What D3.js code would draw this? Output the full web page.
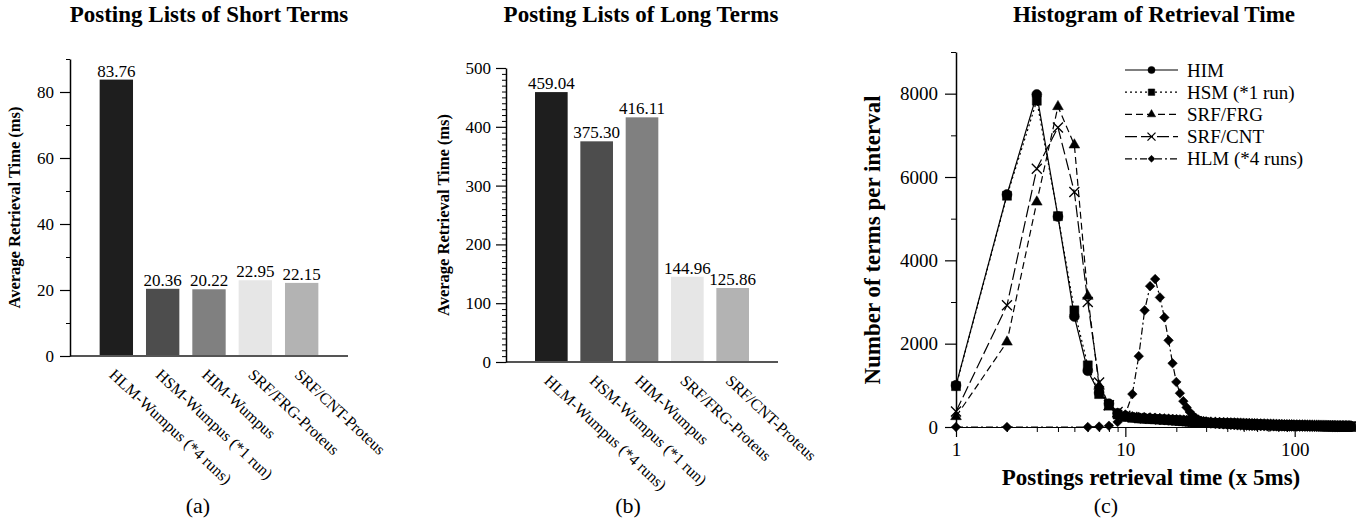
<!DOCTYPE html>
<html>
<head>
<meta charset="utf-8">
<script src="https://cdn.jsdelivr.net/npm/d3@7"></script>
<style>
  body { margin: 0; background: #fff; }
  svg text { font-family: "Liberation Serif", "Times New Roman", serif; fill: #000; }
</style>
</head>
<body>
<svg id="chart" width="1356" height="520"></svg>
<script>
// bar panels
const methods = ['HLM-Wumpus (*4 runs)', 'HSM-Wumpus (*1 run)', 'HIM-Wumpus', 'SRF/FRG-Proteus', 'SRF/CNT-Proteus'];
const shortTimes = [83.76, 20.36, 20.22, 22.95, 22.15];
const longTimes = [459.04, 375.30, 416.11, 144.96, 125.86];
const barShades = ['#1e1e1e', '#4d4d4d', '#808080', '#e6e6e6', '#b3b3b3'];

// histogram (x = retrieval time interval, y = number of terms)
const intervals = [1,2,3,4,5,6,7,8,9,10,11,12,13,14,15,16,17,18,19,20,21,22,23,24,25,26,27,28,29,30,
  32,34,36,38,40,42,44,46,48,50,52,54,56,58,60,
  63,66,69,72,75,78,81,84,87,90,93,96,99,
  103,107,111,115,119,123,127,131,135,139,143,147,151,155,159,163,167,171,175,179,183,187,191,195,199,203,207,211,215];
const himCounts = [1000,5580,7980,5050,2650,1350,820,560,330,260,235,215,205,200,195,185,180,172,166,160,152,146,140,133,128,124,118,114,110,106,
  100,97,94,90,87,84,81,78,75,72,70,67,65,63,61,
  58,55,53,50,48,46,44,42,40,38,37,35,34,
  33,32,31,30,29,28,27,26,25,24,23,22,22,21,20,19,19,18,17,16,16,15,14,14,13,12,12,11,10];
const hsmCounts = [980,5550,7830,5060,2800,1480,790,520,300,240,220,205,198,190,184,178,172,165,158,152,146,140,135,130,124,120,115,110,106,102,
  97,93,90,86,83,80,77,74,71,69,66,64,62,60,58,
  55,53,50,48,46,44,42,40,38,37,35,34,32,
  31,30,29,28,27,26,25,24,23,23,22,21,20,19,19,18,17,17,16,15,15,14,13,13,12,11,11,10,9];
const frgCounts = [250,2040,5400,7690,6770,3140,980,480,310,250,225,212,204,198,190,184,176,170,163,157,150,144,138,132,127,122,117,112,108,104,
  99,95,91,88,84,81,78,75,72,70,67,65,63,61,59,
  56,54,51,49,47,45,43,41,39,38,36,35,33,
  32,31,30,29,28,27,26,25,24,23,22,22,21,20,19,18,18,17,16,16,15,14,14,13,12,12,11,10,10];
const cntCounts = [370,2920,6200,7190,5640,3000,1070,520,360,270,240,222,210,203,196,188,181,174,168,161,155,149,142,137,131,126,121,116,111,107,
  102,98,94,90,87,83,80,77,74,71,69,66,64,62,60,
  57,55,52,50,48,46,44,42,40,39,37,36,34,
  33,32,31,30,29,28,27,26,25,24,24,23,22,21,20,20,19,18,17,17,16,15,15,14,13,13,12,11,11];
const hlmCounts = [0,0,null,null,null,0,10,30,120,300,790,1700,2800,3380,3550,3110,2630,2080,1530,1080,810,620,470,360,280,220,180,150,130,110,
  92,80,70,62,55,49,44,40,36,33,30,27,25,23,21,
  19,17,16,15,14,13,12,11,10,10,9,9,8,
  8,7,7,7,6,6,6,5,5,5,5,4,4,4,4,4,3,3,3,3,3,3,2,2,2,2,2,2,2];
const seriesNames = ['HIM', 'HSM (*1 run)', 'SRF/FRG', 'SRF/CNT', 'HLM (*4 runs)'];

const svg = d3.select('#chart');
svg.append('rect').attr('width', 1356).attr('height', 520).attr('fill', '#fff');

function barPanel(o) {
  const g = svg.append('g');
  const x = d3.scaleBand().domain(methods).range([o.left, o.right])
    .paddingInner(0.28).paddingOuter(0.64);
  const y = d3.scaleLinear().domain([0, o.max]).range([o.bottom, o.top]);

  g.selectAll('rect.bar').data(o.values).enter().append('rect')
    .attr('class', 'bar')
    .attr('x', (d, i) => x(methods[i]))
    .attr('width', x.bandwidth())
    .attr('y', d => y(d))
    .attr('height', d => y(0) - y(d))
    .attr('fill', (d, i) => barShades[i]);

  g.selectAll('text.val').data(o.values).enter().append('text')
    .attr('class', 'val')
    .attr('x', (d, i) => x(methods[i]) + x.bandwidth() / 2)
    .attr('y', d => y(d) - 3)
    .attr('text-anchor', 'middle')
    .style('font-size', '17px')
    .text(d => d3.format('.2f')(d));

  // baseline
  g.append('line')
    .attr('x1', o.left).attr('x2', o.right)
    .attr('y1', y(0)).attr('y2', y(0))
    .attr('stroke', '#555').attr('stroke-width', 2);

  const minor = d3.range(0, o.max + 0.001, o.minorStep).filter(v => v % o.majorStep !== 0);
  g.append('g').attr('transform', `translate(${o.left},0)`)
    .call(d3.axisLeft(y).tickValues(minor).tickSize(4).tickFormat(''))
    .call(a => a.select('.domain').remove());
  const ya = g.append('g').attr('transform', `translate(${o.left},0)`)
    .call(d3.axisLeft(y).tickValues(d3.range(0, o.max + 0.001, o.majorStep))
      .tickSize(10).tickSizeOuter(0).tickPadding(o.pad).tickFormat(d3.format('d')));
  ya.select('.domain').attr('stroke-width', 1.5);
  ya.selectAll('.tick line').attr('stroke-width', 1.2);
  ya.selectAll('text').style('font-size', '17px');

  g.selectAll('text.cat').data(methods).enter().append('text')
    .attr('class', 'cat')
    .attr('transform', d => `translate(${x(d) + x.bandwidth() / 2 - 8},${y(0) + 20}) rotate(43)`)
    .style('font-size', '16px')
    .text(d => d);

  g.append('text')
    .attr('transform', `translate(${o.labelX},${(o.top + o.bottom) / 2}) rotate(-90)`)
    .attr('text-anchor', 'middle')
    .style('font-size', '16.5px').style('font-weight', 'bold')
    .text('Average Retrieval Time (ms)');

  g.append('text').attr('x', o.titleX).attr('y', 22)
    .attr('text-anchor', 'middle')
    .style('font-size', '23px').style('font-weight', 'bold')
    .text(o.title);

  g.append('text').attr('x', o.tagX).attr('y', 513)
    .attr('text-anchor', 'middle').style('font-size', '22px')
    .text(o.tag);
}

barPanel({ left: 70, right: 348, top: 59, bottom: 356, max: 90, majorStep: 20, minorStep: 10, pad: 6,
  values: shortTimes, title: 'Posting Lists of Short Terms', titleX: 209, labelX: 20, tag: '(a)', tagX: 198 });
barPanel({ left: 506, right: 778, top: 68, bottom: 362, max: 500, majorStep: 100, minorStep: 10, pad: 5,
  values: longTimes, title: 'Posting Lists of Long Terms', titleX: 641, labelX: 449, tag: '(b)', tagX: 628 });

// histogram panel
const hx = d3.scaleLog().domain([1, 218]).range([956, 1352]);
const hy = d3.scaleLinear().domain([0, 9000]).range([427, 52]);
const hg = svg.append('g');

const sym = (type, size) => d3.symbol(type, size)();
const markers = [
  { path: sym(d3.symbolCircle, 78), legend: sym(d3.symbolCircle, 40), dash: null, rot: 0, fill: true },
  { path: sym(d3.symbolSquare, 81), legend: sym(d3.symbolSquare, 42), dash: '2,3', rot: 0, fill: true },
  { path: sym(d3.symbolTriangle, 50), legend: sym(d3.symbolTriangle, 30), dash: '7,4', rot: 0, fill: true },
  { path: 'M-5,-5L5,5M-5,5L5,-5', legend: 'M-4,-4L4,4M-4,4L4,-4', dash: '12,4', rot: 0, fill: false },
  { path: sym(d3.symbolSquare, 46), legend: sym(d3.symbolSquare, 24), dash: '7,3,2,3', rot: 45, fill: true }
];
const counts = [himCounts, hsmCounts, frgCounts, cntCounts, hlmCounts];

// axes
const xMinor = [2,3,4,5,6,7,8,9,20,30,40,50,60,70,80,90,200];
hg.append('g').attr('transform', 'translate(0,427)')
  .call(d3.axisBottom(hx).tickValues(xMinor).tickSize(5).tickSizeOuter(0).tickFormat(''))
  .call(a => a.select('.domain').attr('stroke-width', 1.2));
const xa = hg.append('g').attr('transform', 'translate(0,427)')
  .call(d3.axisBottom(hx).tickValues([1, 10, 100]).tickSize(10).tickSizeOuter(0).tickPadding(6).tickFormat(d3.format('d')));
xa.select('.domain').remove();
xa.selectAll('.tick line').attr('stroke-width', 1.2);
xa.selectAll('text').style('font-size', '19px');

hg.append('g').attr('transform', 'translate(956,0)')
  .call(d3.axisLeft(hy).tickValues(d3.range(1000, 9001, 2000)).tickSize(5).tickFormat(''))
  .call(a => a.select('.domain').remove());
const ya = hg.append('g').attr('transform', 'translate(956,0)')
  .call(d3.axisLeft(hy).tickValues(d3.range(0, 8001, 2000)).tickSize(11).tickSizeOuter(0)
    .tickPadding(7).tickFormat(d3.format('d')));
ya.select('.domain').attr('stroke-width', 1.5);
ya.selectAll('.tick line').attr('stroke-width', 1.2);
ya.selectAll('text').style('font-size', '19px');

// series
const line = d3.line().x(d => hx(d[0])).y(d => hy(d[1]));
counts.forEach((c, s) => {
  const pts = intervals.map((t, i) => [t, c[i]]).filter(d => d[1] != null);
  const m = markers[s];
  hg.append('path').datum(pts)
    .attr('d', line)
    .attr('fill', 'none').attr('stroke', '#000').attr('stroke-width', 1.2)
    .attr('stroke-dasharray', m.dash);
  hg.append('g').selectAll('path').data(pts).enter().append('path')
    .attr('d', m.path)
    .attr('transform', d => `translate(${hx(d[0])},${hy(d[1])}) rotate(${m.rot})`)
    .attr('fill', m.fill ? '#000' : 'none')
    .attr('stroke', '#000').attr('stroke-width', m.fill ? 0.5 : 1.3);
});

// legend
const lg = hg.append('g');
seriesNames.forEach((name, s) => {
  const m = markers[s];
  const ly = 70 + s * 22.2;
  lg.append('line').attr('x1', 1125).attr('x2', 1178).attr('y1', ly).attr('y2', ly)
    .attr('stroke', '#000').attr('stroke-width', 1.2).attr('stroke-dasharray', m.dash);
  lg.append('path').attr('d', m.legend)
    .attr('transform', `translate(1151.5,${ly}) rotate(${m.rot})`)
    .attr('fill', m.fill ? '#000' : 'none')
    .attr('stroke', '#000').attr('stroke-width', m.fill ? 0.5 : 1.3);
  lg.append('text').attr('x', 1187).attr('y', ly + 6.5)
    .style('font-size', '19px').text(name);
});

hg.append('text')
  .attr('transform', 'translate(880,240) rotate(-90)')
  .attr('text-anchor', 'middle')
  .style('font-size', '23px').style('font-weight', 'bold')
  .text('Number of terms per interval');
hg.append('text').attr('x', 1151).attr('y', 485)
  .attr('text-anchor', 'middle')
  .style('font-size', '23px').style('font-weight', 'bold')
  .text('Postings retrieval time (x 5ms)');
hg.append('text').attr('x', 1154).attr('y', 22)
  .attr('text-anchor', 'middle')
  .style('font-size', '23px').style('font-weight', 'bold')
  .text('Histogram of Retrieval Time');
hg.append('text').attr('x', 1106).attr('y', 513)
  .attr('text-anchor', 'middle').style('font-size', '22px')
  .text('(c)');
</script>
</body>
</html>
